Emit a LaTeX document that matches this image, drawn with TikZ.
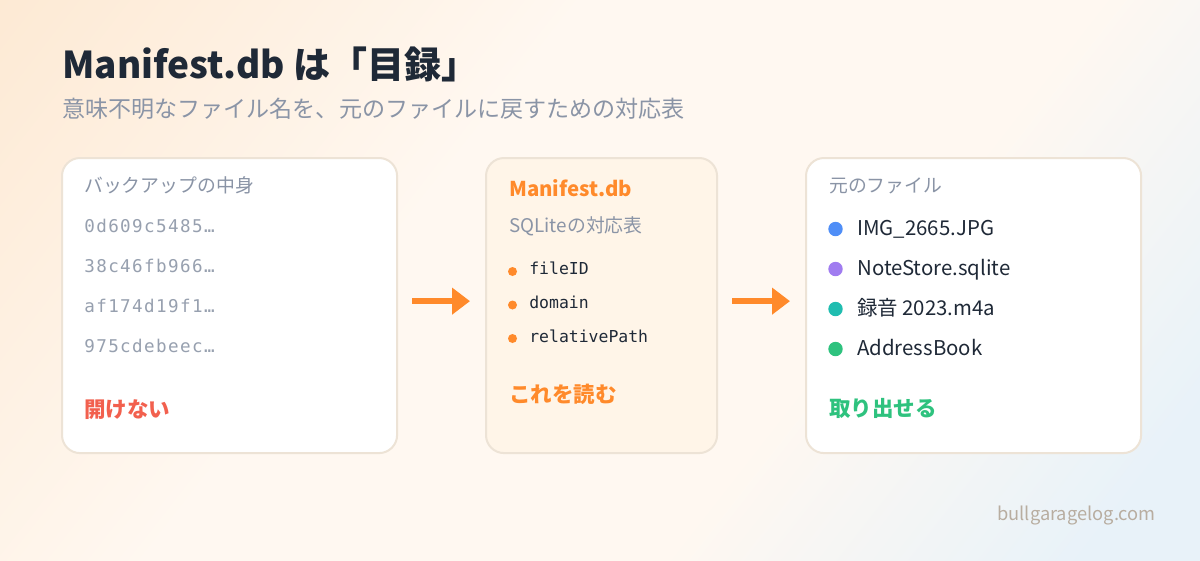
\documentclass[tikz,border=0pt]{standalone}
\usepackage{fontspec}
\setmainfont{Noto Sans CJK JP}
\newfontfamily\codefont{DejaVu Sans Mono}
\newfontfamily\hashfont[LetterSpace=8]{DejaVu Sans Mono}
\usetikzlibrary{arrows.meta}
\definecolor{ink}{HTML}{1F2937}
\definecolor{muted}{HTML}{8A94A6}
\definecolor{hash-grey}{HTML}{97A0AF}
\definecolor{card-line}{HTML}{EDE3D6}
\definecolor{manifest-bg}{HTML}{FFF5E8}
\definecolor{accent}{HTML}{FF8A2B}
\definecolor{warn-red}{HTML}{F2604E}
\definecolor{ok-green}{HTML}{2EC27E}
\definecolor{dot-blue}{HTML}{4F8EF7}
\definecolor{dot-purple}{HTML}{A07CF0}
\definecolor{dot-teal}{HTML}{20BDB0}
\definecolor{site-grey}{HTML}{B8ADA0}
\definecolor{wash-peach}{HTML}{FDE9D3}
\definecolor{wash-cream}{HTML}{FFF8F1}
\definecolor{wash-sky}{HTML}{E8F2F9}
\pgfdeclarehorizontalshading{bgwash}{100bp}{color(0bp)=(wash-peach); color(14bp)=(wash-peach); color(40bp)=(wash-cream); color(62bp)=(wash-cream); color(80bp)=(wash-sky); color(100bp)=(wash-sky)}

\begin{document}
\begin{tikzpicture}[x=0.025cm, y=-0.025cm,
    every node/.style={inner sep=0, anchor=base west},
    card/.style={draw=card-line, line width=0.05cm, rounded corners=0.45cm, anchor=north west, minimum height=7.375cm},
    cardhead/.style={font=\fontsize{13.4pt}{15pt}\selectfont, text=muted},
    hashline/.style={font=\hashfont\fontsize{12.5pt}{15pt}\selectfont, text=hash-grey},
    field/.style={font=\codefont\fontsize{11.7pt}{14pt}\selectfont, text=ink},
    origfile/.style={font=\fontsize{14.5pt}{17pt}\selectfont, text=ink},
    verdict/.style={font=\bfseries\fontsize{15.3pt}{18pt}\selectfont},
    fielddot/.style={circle, fill=accent, minimum size=0.225cm, anchor=center},
    filedot/.style={circle, minimum size=0.36cm, anchor=center},
    flow/.style={draw=accent, line width=0.15cm, -{Triangle[length=0.45cm, width=0.65cm]}}]

    % background wash
    \shade[shading=bgwash, shading angle=-38] (0,0) rectangle (1200,560);
    \useasboundingbox (0,0) rectangle (1200,560);

    % heading
    \node[font=\bfseries\fontsize{26.3pt}{30pt}\selectfont, text=ink] (title) at (62,78) {Manifest.db は「目録」};
    \node[font=\fontsize{16.4pt}{19pt}\selectfont, text=muted] (subtitle) at (62,117) {意味不明なファイル名を、元のファイルに戻すための対応表};

    % cards
    \node[card, fill=white, minimum width=8.375cm] (backup) at (61,157) {};
    \node[card, fill=manifest-bg, minimum width=5.775cm] (manifest) at (485,157) {};
    \node[card, fill=white, minimum width=8.375cm] (original) at (805,157) {};

    % backup contents
    \node[cardhead] (backup-head) at (84,192) {バックアップの中身};
    \node[hashline] (hash-a) at (84,232) {0d609c5485…};
    \node[hashline] (hash-b) at (84,272) {38c46fb966…};
    \node[hashline] (hash-c) at (84,312) {af174d19f1…};
    \node[hashline] (hash-d) at (84,352) {975cdebeec…};
    \node[verdict, text=warn-red] (cannot-open) at (84,417) {開けない};

    % manifest contents
    \node[font=\bfseries\fontsize{14.5pt}{17pt}\selectfont, text=accent] (manifest-head) at (509,196) {Manifest.db};
    \node[cardhead] (manifest-sub) at (509,232) {SQLiteの対応表};
    \node[fielddot] (dot-id) at (512.5,271.5) {};
    \node[field] (field-id) at (529,274) {fileID};
    \node[fielddot] (dot-domain) at (512.5,305) {};
    \node[field] (field-domain) at (529,308) {domain};
    \node[fielddot] (dot-path) at (512.5,338.5) {};
    \node[field] (field-path) at (529,342) {relativePath};
    \node[verdict, text=accent] (read-this) at (509,402) {これを読む};

    % original files
    \node[cardhead] (original-head) at (829,192) {元のファイル};
    \node[filedot, fill=dot-blue] (dot-img) at (835.5,229) {};
    \node[origfile] (file-img) at (857,235) {IMG\_2665.JPG};
    \node[filedot, fill=dot-purple] (dot-note) at (835.5,269) {};
    \node[origfile] (file-note) at (857,275) {NoteStore.sqlite};
    \node[filedot, fill=dot-teal] (dot-voice) at (835.5,309) {};
    \node[origfile] (file-voice) at (857,315) {録音 2023.m4a};
    \node[filedot, fill=ok-green] (dot-book) at (835.5,349) {};
    \node[origfile] (file-book) at (857,355) {AddressBook};
    \node[verdict, text=ok-green] (can-extract) at (829,416) {取り出せる};

    % arrows between cards
    \draw[flow, shorten <=0.35cm, shorten >=0.375cm] ([yshift=0.11cm]backup.east) -- ([yshift=0.11cm]manifest.west);
    \draw[flow, shorten <=0.35cm, shorten >=0.375cm] ([yshift=0.11cm]manifest.east) -- ([yshift=0.11cm]original.west);

    \node[font=\fontsize{13pt}{15pt}\selectfont, text=site-grey] (site) at (997,520) {bullgaragelog.com};
  \end{tikzpicture}
\end{document}
